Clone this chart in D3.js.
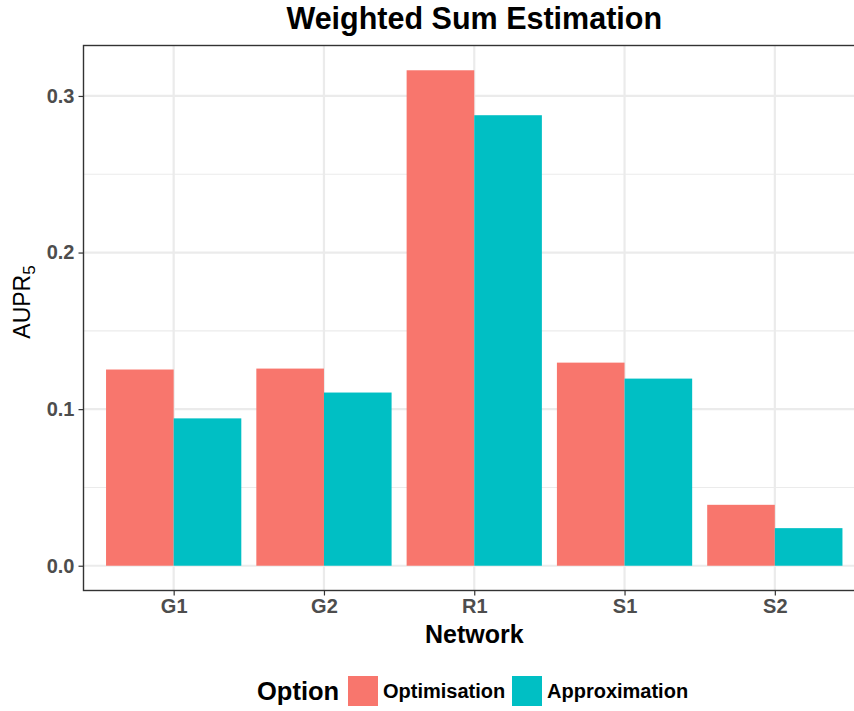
<!DOCTYPE html>
<html>
<head>
<meta charset="utf-8">
<script src="https://cdn.jsdelivr.net/npm/d3@7"></script>
<style>
  html, body { margin: 0; padding: 0; background: #fff; }
  svg { display: block; font-family: "Liberation Sans", Arial, Helvetica, sans-serif; }
</style>
</head>
<body>
<svg id="chart" width="854" height="711"></svg>
<script>
// AUPR5 per network, for the two weighting options
const networks = ["G1", "G2", "R1", "S1", "S2"];
const options = ["Optimisation", "Approximation"];
const optimisation = [0.1253, 0.1259, 0.3164, 0.1297, 0.0389];
const approximation = [0.0941, 0.1106, 0.2877, 0.1195, 0.0240];
const yTicks = [0.0, 0.1, 0.2, 0.3];
const colors = ["#F8766D", "#00BFC4"];

const rows = networks.map((n, i) => ({
  network: n,
  values: [
    { option: options[0], value: optimisation[i] },
    { option: options[1], value: approximation[i] }
  ]
}));

const svg = d3.select("#chart");
const panel = { left: 83.5, top: 45.5, right: 865, bottom: 590.5 };

// discrete axis: 0.6 unit expansion on each side
const step = (panel.right - panel.left) / (networks.length - 1 + 1.2);
const xCenter = d3.scalePoint()
  .domain(networks)
  .range([panel.left + 0.6 * step, panel.right - 0.6 * step]);
const groupWidth = 0.9 * step;
const xInner = d3.scaleBand().domain(options).range([-groupWidth / 2, groupWidth / 2]).padding(0);

const yMax = 0.3164 * 1.05;
const yMin = -0.3164 * 0.05;
const y = d3.scaleLinear().domain([yMin, yMax]).range([panel.bottom, panel.top]);

const color = d3.scaleOrdinal().domain(options).range(colors);

const g = svg.append("g");

// grid lines
const minor = [0.05, 0.15, 0.25];
g.selectAll(".minor").data(minor).join("line")
  .attr("x1", panel.left).attr("x2", panel.right)
  .attr("y1", d => y(d)).attr("y2", d => y(d))
  .attr("stroke", "#ebebeb").attr("stroke-width", 1.1);
g.selectAll(".major").data(yTicks).join("line")
  .attr("x1", panel.left).attr("x2", panel.right)
  .attr("y1", d => y(d)).attr("y2", d => y(d))
  .attr("stroke", "#ebebeb").attr("stroke-width", 2.2);
g.selectAll(".vmajor").data(networks).join("line")
  .attr("x1", d => xCenter(d)).attr("x2", d => xCenter(d))
  .attr("y1", panel.top).attr("y2", panel.bottom)
  .attr("stroke", "#ebebeb").attr("stroke-width", 2.2);

// bars
const groups = g.selectAll(".grp").data(rows).join("g")
  .attr("transform", d => `translate(${xCenter(d.network)},0)`);
groups.selectAll("rect").data(d => d.values).join("rect")
  .attr("x", d => xInner(d.option))
  .attr("width", xInner.bandwidth())
  .attr("y", d => y(d.value))
  .attr("height", d => y(0) - y(d.value))
  .attr("fill", d => color(d.option));

// panel border
g.append("rect")
  .attr("x", panel.left).attr("y", panel.top)
  .attr("width", panel.right - panel.left).attr("height", panel.bottom - panel.top)
  .attr("fill", "none").attr("stroke", "#333333").attr("stroke-width", 1.4);

// y axis
const yAxis = d3.axisLeft(y).tickValues(yTicks).tickFormat(d3.format(".1f")).tickSize(5).tickPadding(4);
const ya = svg.append("g").attr("transform", `translate(${panel.left},0)`).call(yAxis);
ya.select(".domain").remove();
ya.selectAll(".tick line").attr("stroke", "#333333").attr("stroke-width", 1.2);
ya.selectAll(".tick text").attr("fill", "#4d4d4d").style("font-size", "20px").style("font-weight", "bold");

// x axis
const xAxis = d3.axisBottom(xCenter).tickSize(5).tickPadding(3);
const xa = svg.append("g").attr("transform", `translate(0,${panel.bottom})`).call(xAxis);
xa.select(".domain").remove();
xa.selectAll(".tick line").attr("stroke", "#333333").attr("stroke-width", 1.2);
xa.selectAll(".tick text").attr("fill", "#4d4d4d").style("font-size", "20px").style("font-weight", "bold");

// titles
const cx = (panel.left + panel.right) / 2;
svg.append("text").attr("x", cx).attr("y", 29).attr("text-anchor", "middle")
  .style("font-size", "30.5px").style("font-weight", "bold").attr("fill", "#000")
  .text("Weighted Sum Estimation");
svg.append("text").attr("x", cx).attr("y", 643).attr("text-anchor", "middle")
  .style("font-size", "25px").style("font-weight", "bold").attr("fill", "#000")
  .text("Network");
const yl = svg.append("text")
  .attr("transform", `translate(30,302) rotate(-90)`)
  .attr("text-anchor", "middle")
  .style("font-size", "23px").attr("fill", "#000");
yl.append("tspan").text("AUPR");
yl.append("tspan").attr("dy", 5).style("font-size", "17px").text("5");

// legend
const lg = svg.append("g");
lg.append("text").attr("x", 257).attr("y", 700)
  .style("font-size", "25.5px").style("font-weight", "bold").attr("fill", "#000").text("Option");
const keyX = [348, 512];
options.forEach((o, i) => {
  lg.append("rect").attr("x", keyX[i]).attr("y", 676).attr("width", 30).attr("height", 30)
    .attr("fill", color(o));
  lg.append("text").attr("x", keyX[i] + 35).attr("y", 698)
    .style("font-size", "20px").style("font-weight", "bold").attr("fill", "#000").text(o);
});
</script>
</body>
</html>
